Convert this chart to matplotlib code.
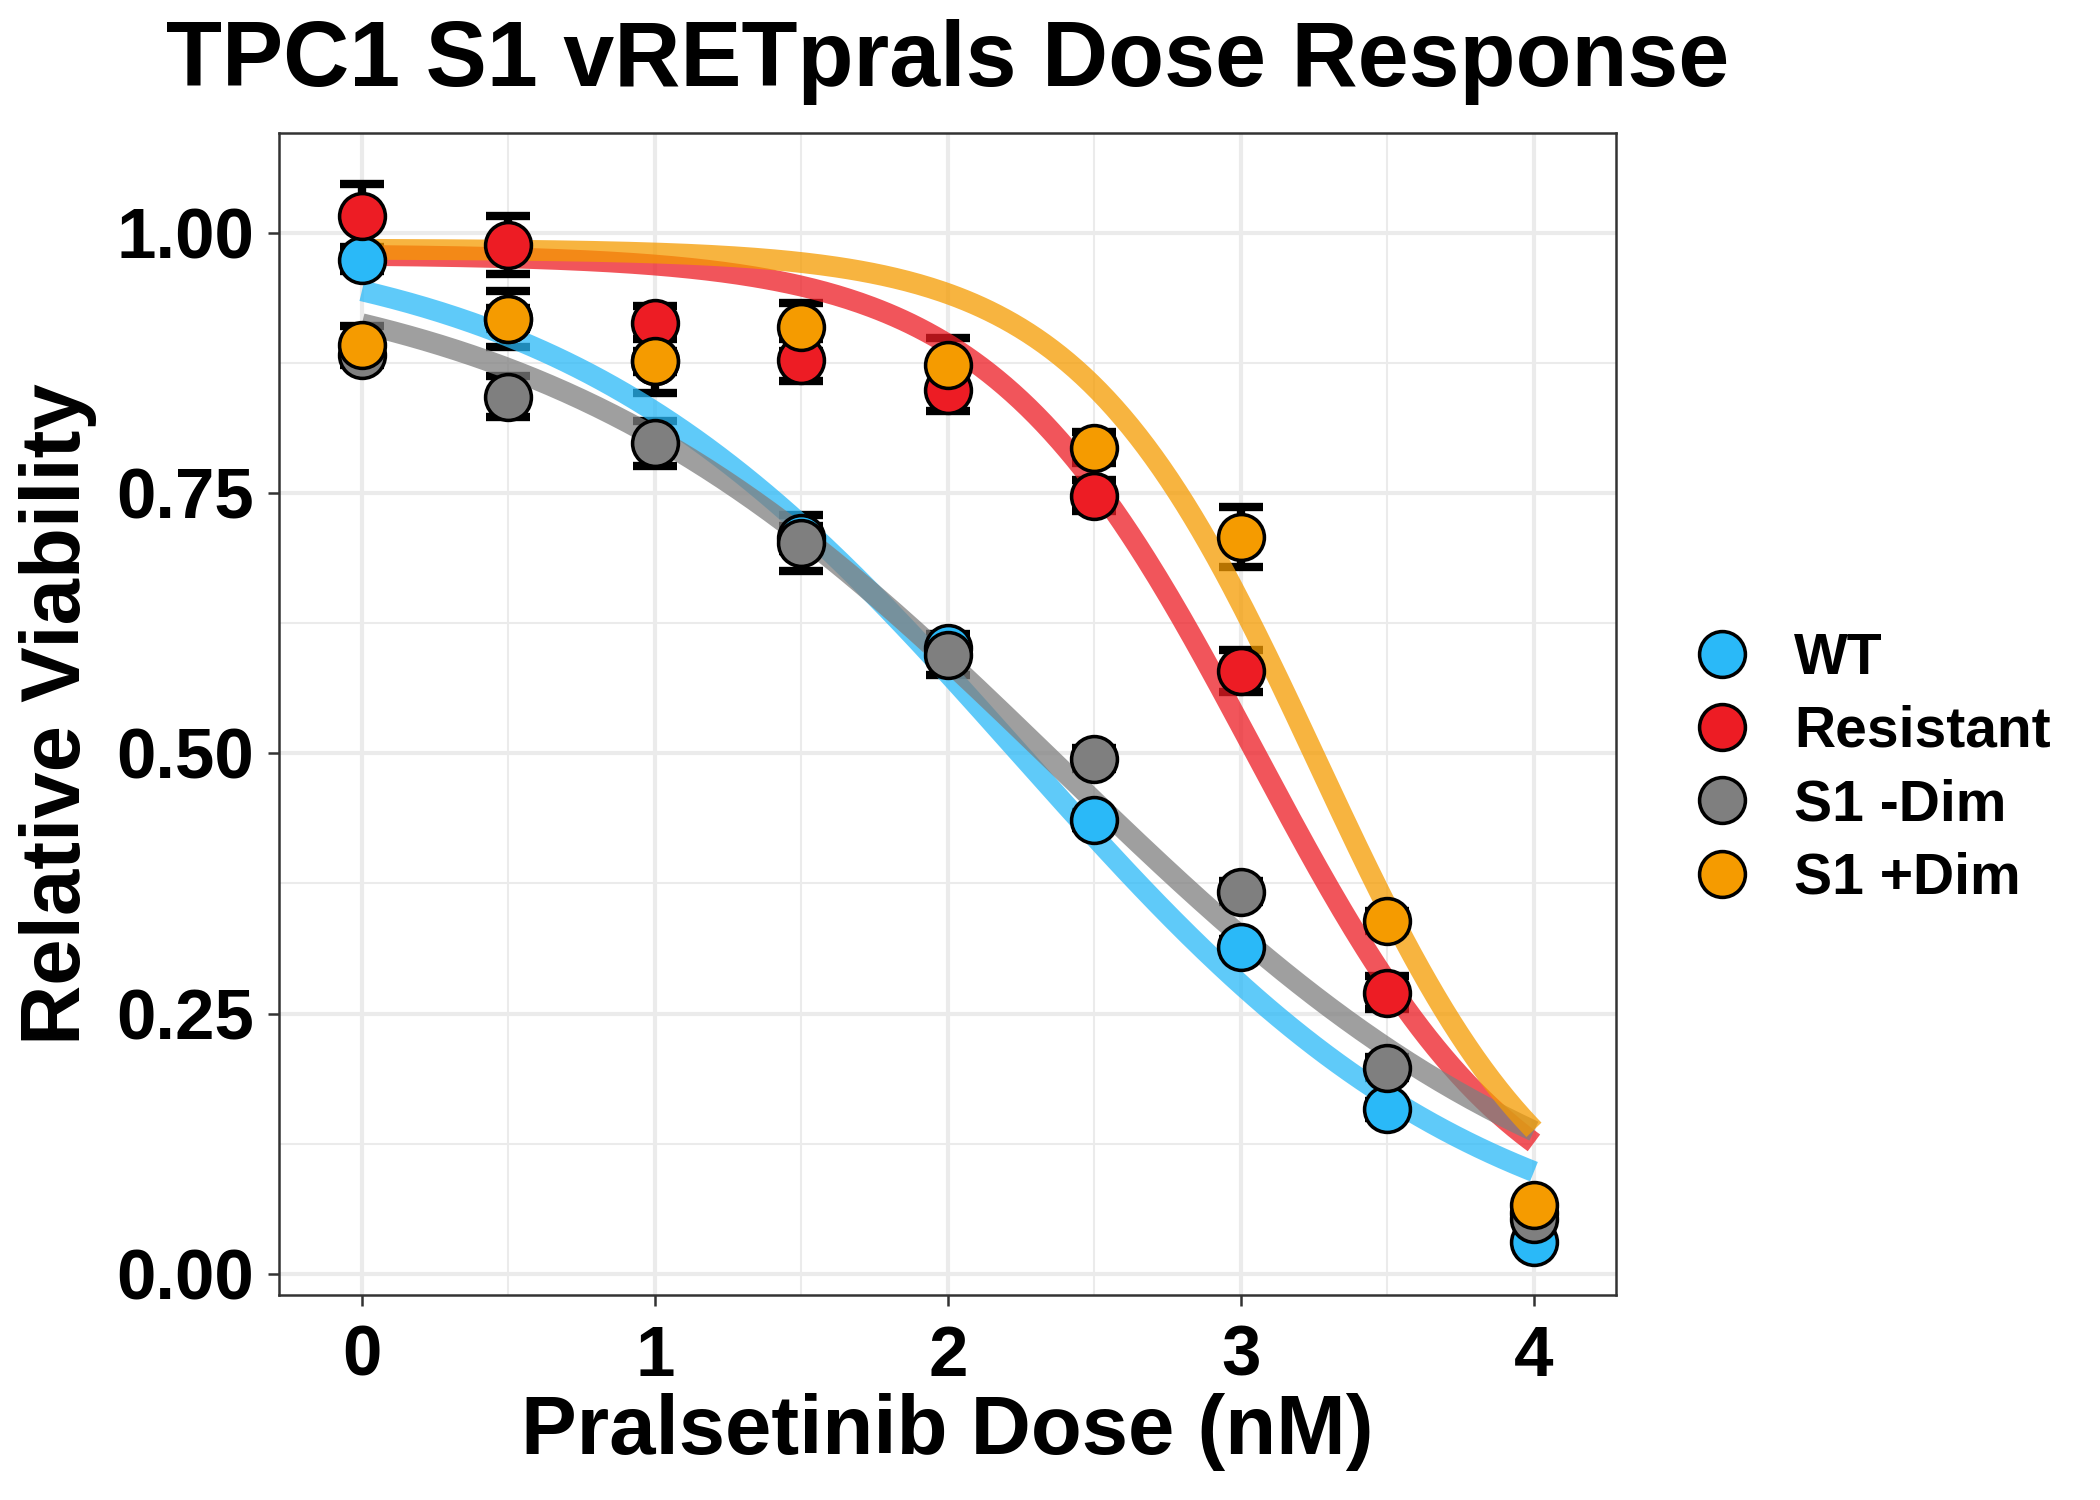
import numpy as np
import matplotlib
matplotlib.use("Agg")
import matplotlib.pyplot as plt
from matplotlib.lines import Line2D

plt.rcParams['font.family'] = ['Liberation Sans', 'DejaVu Sans']

# ---- data ----
dose = [0, 0.5, 1, 1.5, 2, 2.5, 3, 3.5, 4]
series_names = ["WT", "Resistant", "S1 -Dim", "S1 +Dim"]

wt        = [0.974, 0.918, 0.877, 0.707, 0.601, 0.436, 0.314, 0.158, 0.030]
resistant = [1.017, 0.989, 0.914, 0.878, 0.849, 0.748, 0.579, 0.270, 0.058]
s1_minus  = [0.883, 0.843, 0.798, 0.702, 0.595, 0.495, 0.367, 0.198, 0.052]
s1_plus   = [0.893, 0.918, 0.877, 0.910, 0.873, 0.794, 0.708, 0.339, 0.066]

wt_err        = [0.010, 0.010, 0.010, 0.012, 0.010, 0.008, 0.008, 0.008, 0.005]
resistant_err = [0.030, 0.028, 0.016, 0.020, 0.020, 0.015, 0.020, 0.016, 0.005]
s1_minus_err  = [0.010, 0.020, 0.022, 0.027, 0.020, 0.010, 0.010, 0.010, 0.005]
s1_plus_err   = [0.018, 0.027, 0.030, 0.023, 0.026, 0.015, 0.029, 0.010, 0.005]

# fitted 4-parameter logistic curve parameters (top, bottom, slope, midpoint)
fit_top    = [1.000, 0.980, 0.978, 0.985]
fit_bottom = [0.000, 0.020, 0.000, 0.000]
fit_slope  = [1.265, 2.200, 1.115, 2.450]
fit_mid    = [2.245, 3.050, 2.372, 3.260]

point_colors = ["#2AB9F8", "#ED1C24", "#7F7F7F", "#F59B00"]

values = [wt, resistant, s1_minus, s1_plus]
errors = [wt_err, resistant_err, s1_minus_err, s1_plus_err]

# ---- figure ----
fig = plt.figure(figsize=(7, 5), dpi=300)
ax = fig.add_axes([279/2100, 1-1295/1500, (1616-279)/2100, (1295-133)/1500])

ax.set_xlim(-0.283, 4.28)
ax.set_ylim(-0.0206, 1.0965)

ax.set_xticks([0, 1, 2, 3, 4])
ax.set_xticks([0.5, 1.5, 2.5, 3.5], minor=True)
ax.set_yticks([0, 0.25, 0.5, 0.75, 1.0])
ax.set_yticks([0.125, 0.375, 0.625, 0.875], minor=True)
ax.set_xticklabels(["0", "1", "2", "3", "4"])
ax.set_yticklabels(["0.00", "0.25", "0.50", "0.75", "1.00"])

ax.grid(which='major', color='#EBEBEB', linewidth=1.0, zorder=0)
ax.grid(which='minor', color='#EBEBEB', linewidth=0.5, zorder=0)
ax.set_axisbelow(True)

for sp in ax.spines.values():
    sp.set_color('#333333')
    sp.set_linewidth(0.6)

ax.tick_params(which='major', length=2.7, width=0.6, color='#333333',
               labelsize=17, labelcolor='black')
ax.tick_params(axis='x', which='major', pad=4.5)
ax.tick_params(axis='y', which='major', pad=3.3)
ax.tick_params(which='minor', length=0)
for lab in ax.get_xticklabels() + ax.get_yticklabels():
    lab.set_fontweight('bold')

# error bars
for v, e in zip(values, errors):
    ax.errorbar(dose, v, yerr=e, fmt='none', ecolor='black', elinewidth=2,
                capsize=5.3, capthick=2, zorder=2)

# fitted curves
xs = np.linspace(0, 4, 300)
for i in range(4):
    ys = fit_bottom[i] + (fit_top[i] - fit_bottom[i]) / (1 + np.exp(fit_slope[i] * (xs - fit_mid[i])))
    ax.plot(xs, ys, color=point_colors[i], alpha=0.75, linewidth=5.0,
            solid_capstyle='butt', zorder=3)

# points
for i, v in enumerate(values):
    ax.plot(dose, v, linestyle='none', marker='o', markersize=11,
            markerfacecolor=point_colors[i], markeredgecolor='black',
            markeredgewidth=0.85, zorder=4 + i)

# labels
fig.text((279 + 1616) / 2 / 2100, 1 - 62/1500, "TPC1 S1 vRETprals Dose Response",
         fontsize=22, fontweight='bold', ha='center', va='center')
ax.set_xlabel("Pralsetinib Dose (nM)", fontsize=20, fontweight='bold')
ax.set_ylabel("Relative Viability", fontsize=20, fontweight='bold')
ax.xaxis.label.set_va('center')
ax.yaxis.label.set_va('center')
ax.xaxis.set_label_coords(0.5, (1295-1432)/1162)
ax.yaxis.set_label_coords((58-279)/1337, 0.5)

handles = [Line2D([], [], linestyle='none', marker='o', markersize=11,
                  markerfacecolor=c, markeredgecolor='black', markeredgewidth=0.85)
           for c in point_colors]
leg = ax.legend(handles, series_names, loc='center left',
                bbox_to_anchor=((1693.5-279)/1337, 0.453), frameon=False,
                handlelength=1.0, handletextpad=0.76, labelspacing=0.34,
                borderpad=0, borderaxespad=0,
                prop={'size': 13.7, 'weight': 'bold'})

fig.savefig("out.png", dpi=300)
